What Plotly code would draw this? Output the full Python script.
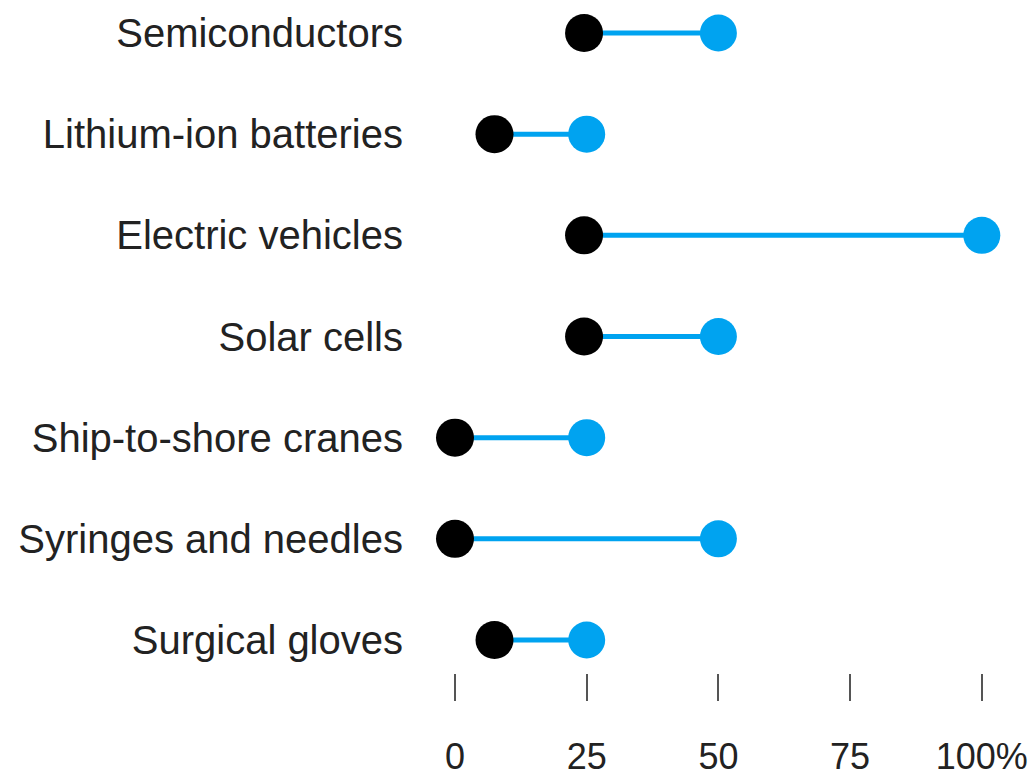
import plotly.graph_objects as go

categories = ["Semiconductors", "Lithium-ion batteries", "Electric vehicles",
              "Solar cells", "Ship-to-shore cranes", "Syringes and needles",
              "Surgical gloves"]
start_vals = [24.5, 7.5, 24.5, 24.5, 0, 0, 7.5]
end_vals = [50, 25, 100, 50, 25, 50, 25]
tick_vals = [0, 25, 50, 75, 100]
tick_text = ["0", "25", "50", "75", "100%"]

BLUE = "#00a3f0"
BLACK = "#000000"
FONT = "Liberation Sans, Arial, sans-serif"

fig = go.Figure()

line_x, line_y = [], []
for c, s, e in zip(categories, start_vals, end_vals):
    line_x += [s, e, None]
    line_y += [c, c, None]

fig.add_trace(go.Scatter(x=line_x, y=line_y, mode="lines",
                         line=dict(color=BLUE, width=5),
                         hoverinfo="skip", showlegend=False, cliponaxis=False))
fig.add_trace(go.Scatter(x=end_vals, y=categories, mode="markers",
                         marker=dict(color=BLUE, size=37),
                         showlegend=False, cliponaxis=False))
fig.add_trace(go.Scatter(x=start_vals, y=categories, mode="markers",
                         marker=dict(color=BLACK, size=38),
                         showlegend=False, cliponaxis=False))

fig.update_layout(
    width=1031, height=780,
    margin=dict(l=410, r=6, t=0, b=107),
    paper_bgcolor="white", plot_bgcolor="white",
    font=dict(family=FONT, color="#222222"),
    xaxis=dict(range=[-8.54, 108.2], tickvals=tick_vals, ticktext=tick_text,
               showgrid=False, zeroline=False, showline=False, automargin=False,
               ticks="outside", ticklen=27, tickwidth=2, tickcolor="#555555",
               ticklabelstandoff=25,
               tickfont=dict(size=36, family=FONT, color="#222222")),
    yaxis=dict(type="category", categoryorder="array", categoryarray=categories,
               range=[6.326, -0.326], showgrid=False, zeroline=False,
               showline=False, ticks="", automargin=False,
               ticklabelstandoff=6,
               tickfont=dict(size=40, family=FONT, color="#222222")),
)

fig.write_html(
    "out.html",
    config={"displayModeBar": False},
    post_script="document.body.style.margin='0';document.body.style.overflow='hidden';",
)
